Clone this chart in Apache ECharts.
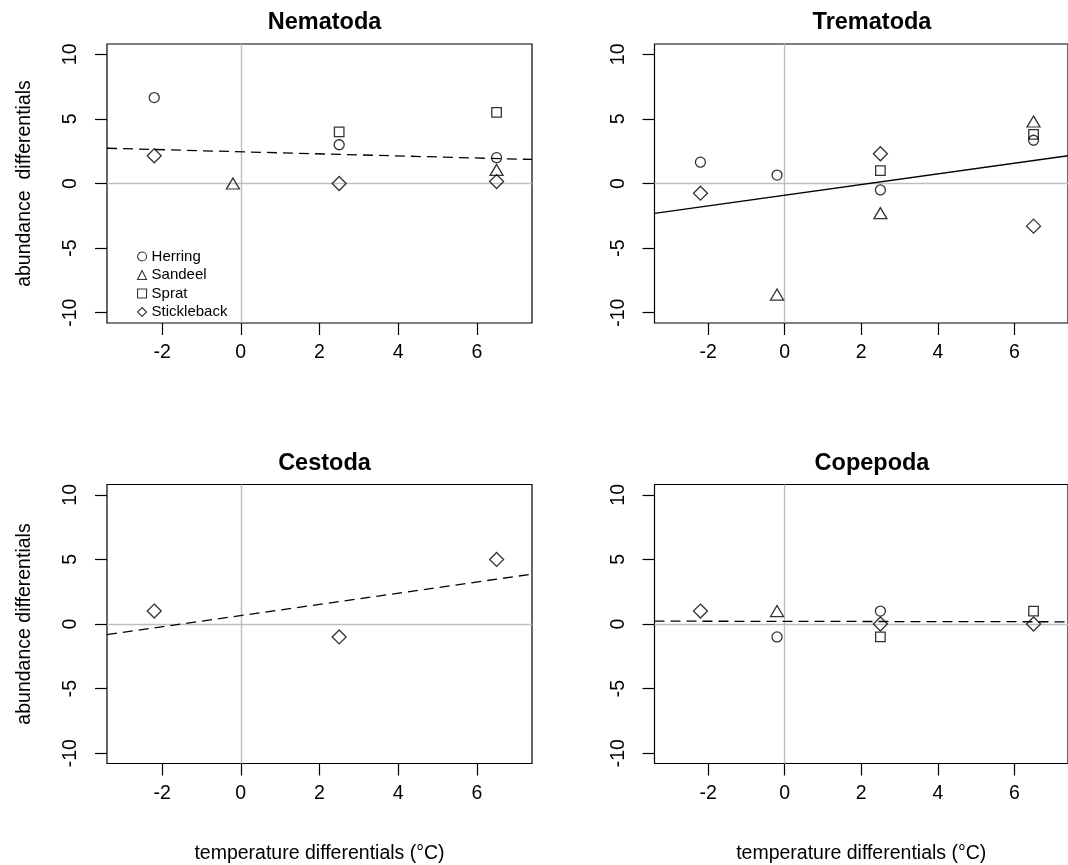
<!DOCTYPE html>
<html>
<head>
<meta charset="utf-8">
<script src="https://cdn.jsdelivr.net/npm/echarts@6/dist/echarts.min.js"></script>
<style>
html,body{margin:0;padding:0;background:#fff;}
#chart{width:1068px;height:865px;}
</style>
</head>
<body>
<div id="chart"></div>
<script>
// ---- data ----
const panelTitles = ['Nematoda', 'Trematoda', 'Cestoda', 'Copepoda'];
const species = ['Herring', 'Sandeel', 'Sprat', 'Stickleback'];
const temps = [-2.2, -0.2, 2.5, 6.5];          // temperature differentials (°C)
const xTicks = [-2, 0, 2, 4, 6];
const yTicks = [-10, -5, 0, 5, 10];
const xLimits = [-3.4, 7.4];
const yLimits = [-10.8, 10.8];

// abundance differentials per panel, per species (null = not present), aligned with temps
const nematodaHerring     = [6.65, null, 3.0, 2.0];
const nematodaSandeel     = [null, 0, null, 1.05];
const nematodaSprat       = [null, null, 4.0, 5.5];
const nematodaStickleback = [2.15, null, 0, 0.15];

const trematodaHerring     = [1.65, 0.65, -0.5, 3.35];
const trematodaSandeel     = [null, -8.6, -2.3, 4.8];
const trematodaSprat       = [null, null, 1.0, 3.8];
const trematodaStickleback = [-0.75, null, 2.3, -3.3];

const cestodaHerring     = [null, null, null, null];
const cestodaSandeel     = [null, null, null, null];
const cestodaSprat       = [null, null, null, null];
const cestodaStickleback = [1.0, null, -1.0, 5.0];

const copepodaHerring     = [null, -1.0, 1.0, null];
const copepodaSandeel     = [null, 1.0, null, null];
const copepodaSprat       = [null, null, -1.0, 1.0];
const copepodaStickleback = [1.0, null, 0, 0];

// fitted lines: values at the left and right plot limits
const nematodaFit  = [2.73, 1.86];
const trematodaFit = [-2.32, 2.15];
const cestodaFit   = [-0.82, 3.86];
const copepodaFit  = [0.22, 0.17];
const fitTypes = ['dashed', 'solid', 'dashed', 'dashed'];

// ---- chart construction ----
const panelData = [
  [nematodaHerring, nematodaSandeel, nematodaSprat, nematodaStickleback],
  [trematodaHerring, trematodaSandeel, trematodaSprat, trematodaStickleback],
  [cestodaHerring, cestodaSandeel, cestodaSprat, cestodaStickleback],
  [copepodaHerring, copepodaSandeel, copepodaSprat, copepodaStickleback]
];
const panelFits = [nematodaFit, trematodaFit, cestodaFit, copepodaFit];

const FONT = "'Liberation Sans', Arial, Helvetica, sans-serif";
const symbolOf = {
  Herring: {symbol: 'circle', size: 10},
  Sandeel: {symbol: 'triangle', size: [13, 11]},
  Sprat: {symbol: 'rect', size: 9.5},
  Stickleback: {symbol: 'diamond', size: 14}
};

const gridLeft = [107, 654.5, 107, 654.5];
const gridTop = [44, 44, 484.5, 484.5];
const GW = 425, GH = 279;

const grids = [], xAxes = [], yAxes = [], titles = [], series = [];
for (let p = 0; p < 4; p++) {
  grids.push({left: gridLeft[p], top: gridTop[p], width: GW, height: GH,
    show: true, borderColor: '#000', borderWidth: 1.2, backgroundColor: 'transparent'});
  const bottomRow = p >= 2, leftCol = (p % 2) === 0;
  xAxes.push({
    type: 'value', gridIndex: p, min: xLimits[0], max: xLimits[1], position: 'bottom',
    axisLine: {show: false, onZero: false},
    splitLine: {show: false},
    axisTick: {show: true, length: 12, inside: false, customValues: xTicks,
      lineStyle: {color: '#000', width: 1.2}},
    axisLabel: {show: true, customValues: xTicks, margin: 20,
      fontFamily: FONT, fontSize: 19.5, color: '#000'},
    name: bottomRow ? 'temperature differentials (°C)' : '',
    nameLocation: 'middle', nameGap: 80,
    nameTextStyle: {fontFamily: FONT, fontSize: 19.5, color: '#000'}
  });
  yAxes.push({
    type: 'value', gridIndex: p, min: yLimits[0], max: yLimits[1], position: 'left',
    axisLine: {show: false, onZero: false},
    splitLine: {show: false},
    axisTick: {show: true, length: 12, inside: false, customValues: yTicks,
      lineStyle: {color: '#000', width: 1.2}},
    axisLabel: {show: true, customValues: yTicks, rotate: 90, margin: 26,
      fontFamily: FONT, fontSize: 19.5, color: '#000'},
    name: leftCol ? (p === 0 ? 'abundance  differentials' : 'abundance differentials') : '',
    nameLocation: 'middle', nameRotate: 90, nameGap: 72,
    nameTextStyle: {fontFamily: FONT, fontSize: 19.5, color: '#000'}
  });
  titles.push({
    text: panelTitles[p], left: gridLeft[p] + GW / 2, top: gridTop[p] - 38,
    textAlign: 'center',
    textStyle: {fontFamily: FONT, fontSize: 23.5, fontWeight: 'bold', color: '#000'}
  });

  // reference lines at zero + fitted line
  const fit = panelFits[p];
  series.push({
    type: 'line', name: 'fit' + p, xAxisIndex: p, yAxisIndex: p,
    data: [[xLimits[0], fit[0]], [xLimits[1], fit[1]]],
    symbol: 'none', clip: true, silent: true, z: 3,
    lineStyle: {color: '#000', width: 1.3,
      type: fitTypes[p] === 'dashed' ? [10, 6] : 'solid'},
    markLine: {
      silent: true, symbol: 'none', label: {show: false}, animation: false,
      lineStyle: {color: '#bebebe', width: 1.4, type: 'solid'},
      data: [{xAxis: 0}, {yAxis: 0}], z: 1
    }
  });

  species.forEach((sp, s) => {
    const vals = panelData[p][s];
    const pts = [];
    vals.forEach((v, i) => { if (v !== null) pts.push([temps[i], v]); });
    series.push({
      type: 'scatter', name: sp, xAxisIndex: p, yAxisIndex: p,
      data: pts, symbol: symbolOf[sp].symbol, symbolSize: symbolOf[sp].size,
      itemStyle: {color: 'rgba(0,0,0,0)', borderColor: '#000', borderWidth: 1.3},
      z: 4, silent: true
    });
  });
}

const chart = echarts.init(document.getElementById('chart'), null, {renderer: 'canvas'});
chart.setOption({
  animation: false,
  backgroundColor: '#fff',
  title: titles,
  grid: grids,
  xAxis: xAxes,
  yAxis: yAxes,
  legend: {
    show: true, orient: 'vertical', left: 132, top: 244,
    data: species, itemWidth: 9, itemHeight: 9, itemGap: 3.5,
    selectedMode: false,
    itemStyle: {borderWidth: 1.1},
    textStyle: {fontFamily: FONT, fontSize: 15, color: '#000', lineHeight: 15}
  },
  series: series
});
</script>
</body>
</html>
